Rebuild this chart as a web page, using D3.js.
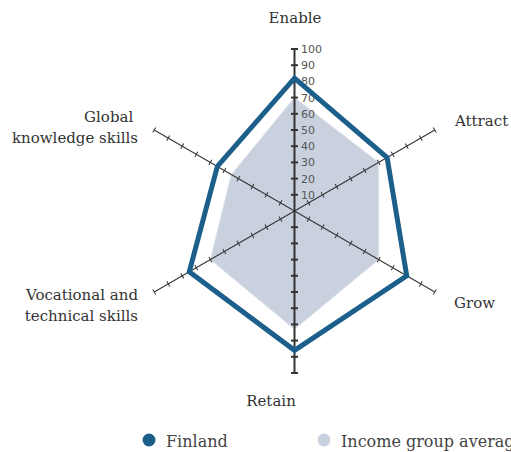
<!DOCTYPE html>
<html>
<head>
<meta charset="utf-8">
<script src="https://cdn.jsdelivr.net/npm/d3@7"></script>
<style>
  body { margin: 0; background: #fff; overflow: hidden; }
  svg { display: block; }
</style>
</head>
<body>
<div id="chart"></div>
<script>
// chart data
const categories = ["Enable", "Attract", "Grow", "Retain", "Vocational and technical skills", "Global knowledge skills"];
const finland = [82, 66, 80, 86, 75, 55];
const incomeAvg = [70, 60, 60, 73, 60, 45];
const tickValues = [10, 20, 30, 40, 50, 60, 70, 80, 90, 100];
const seriesNames = ["Finland", "Income group average"];

const width = 511;
const height = 452;
const cx = 294.5;
const cy = 211;
const radius = 162;

const blue = "#1d5f8b";
const grey = "#cad1de";

const svg = d3.select("#chart")
  .append("svg")
  .attr("width", width)
  .attr("height", height);

const r = d3.scaleLinear().domain([0, 100]).range([0, radius]);
const angle = d3.scaleLinear().domain([0, categories.length]).range([0, 2 * Math.PI]);

const g = svg.append("g").attr("transform", `translate(${cx},${cy})`);

const radar = d3.lineRadial()
  .angle((d, i) => angle(i))
  .radius(d => r(d))
  .curve(d3.curveLinearClosed);

// income group area (under the axes)
g.append("path")
  .datum(incomeAvg)
  .attr("d", radar)
  .attr("fill", grey)
  .attr("stroke", "#dfe3ea")
  .attr("stroke-width", 1);

// axes with ticks
categories.forEach((c, i) => {
  const deg = angle(i) * 180 / Math.PI;
  const vertical = i === 0 || i === 3;
  const ax = g.append("g").attr("transform", `rotate(${deg})`);
  ax.append("line")
    .attr("x1", 0).attr("y1", 0)
    .attr("x2", 0).attr("y2", -r(100))
    .attr("stroke", "#333")
    .attr("stroke-width", vertical ? 2 : 1);
  ax.selectAll("line.tick")
    .data(tickValues)
    .join("line")
      .attr("class", "tick")
      .attr("x1", vertical ? -3.5 : -3)
      .attr("x2", vertical ? 3.5 : 3)
      .attr("y1", d => -r(d))
      .attr("y2", d => -r(d))
      .attr("stroke", "#333")
      .attr("stroke-width", vertical ? 2 : 1);
});

// tick labels on the Enable axis
g.selectAll("text.tl")
  .data(tickValues)
  .join("text")
    .attr("class", "tl")
    .attr("x", 6.5)
    .attr("y", d => -r(d))
    .attr("dy", "0.36em")
    .attr("font-family", "DejaVu Sans")
    .attr("font-size", 11)
    .attr("fill", "#555")
    .text(d => d);

// Finland line on top
g.append("path")
  .datum(finland)
  .attr("d", radar)
  .attr("fill", "none")
  .attr("stroke", blue)
  .attr("stroke-width", 5)
  .attr("stroke-linejoin", "miter");

// category labels
const labelPos = [
  { x: 295, y: 23, anchor: "middle", lines: ["Enable"] },
  { x: 455, y: 126, anchor: "start", lines: ["Attract"] },
  { x: 454, y: 308, anchor: "start", lines: ["Grow"] },
  { x: 271, y: 406, anchor: "middle", lines: ["Retain"] },
  { x: 138, y: 300, anchor: "end", lines: ["Vocational and", "technical skills"] },
  { x: 138, y: 122, anchor: "end", lines: ["Global ", "knowledge skills"] }
];

labelPos.forEach((p, i) => {
  const t = svg.append("text")
    .attr("text-anchor", p.anchor)
    .attr("font-family", "DejaVu Serif")
    .attr("font-size", 15)
    .attr("fill", "#333")
    .attr("xml:space", "preserve");
  p.lines.forEach((ln, j) => {
    t.append("tspan")
      .attr("x", p.x)
      .attr("y", p.y + j * 21)
      .text(ln);
  });
});

// legend
const legendX = [149, 324];
const legend = svg.append("g")
  .selectAll("g")
  .data(seriesNames)
  .join("g")
    .attr("transform", (d, i) => `translate(${legendX[i]},440)`);

legend.append("circle")
  .attr("r", 6.5)
  .attr("fill", (d, i) => i === 0 ? blue : grey);

legend.append("text")
  .attr("x", 17)
  .attr("y", 6.5)
  .attr("font-family", "DejaVu Serif")
  .attr("font-size", 16)
  .attr("fill", "#444")
  .text(d => d);
</script>
</body>
</html>
